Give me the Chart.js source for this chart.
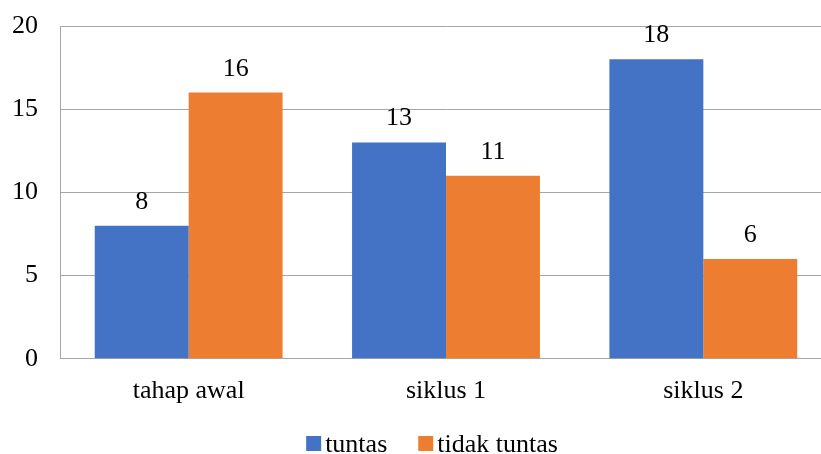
<!DOCTYPE html>
<html>
<head>
<meta charset="utf-8">
<script src="https://cdn.jsdelivr.net/npm/chart.js@4"></script>
<style>
  html, body { margin: 0; padding: 0; background: #fff; overflow: hidden; }
  #wrap { width: 832px; height: 454px; }
</style>
</head>
<body>
<div id="wrap"><canvas id="c"></canvas></div>
<script>
const categories = ['tahap awal', 'siklus 1', 'siklus 2'];
const tuntas = [8, 13, 18];
const tidakTuntas = [16, 11, 6];
const seriesNames = ['tuntas', 'tidak tuntas'];
const yTicks = [0, 5, 10, 15, 20];

const serif = "'Liberation Serif', 'Times New Roman', serif";
const FONT_SIZE = 26;

// Draws each bar's value just above it
const valueLabels = {
  id: 'valueLabels',
  afterDatasetsDraw(chart) {
    const ctx = chart.ctx;
    ctx.save();
    ctx.font = FONT_SIZE + 'px ' + serif;
    ctx.fillStyle = '#000';
    ctx.textAlign = 'center';
    ctx.textBaseline = 'alphabetic';
    chart.data.datasets.forEach((ds, i) => {
      chart.getDatasetMeta(i).data.forEach((bar, j) => {
        ctx.fillText(String(ds.data[j]), bar.x, bar.y - 17);
      });
    });
    ctx.restore();
  }
};

// Compact legend row under the axis: square swatch, tight gap, label
const bottomLegend = {
  id: 'bottomLegend',
  afterDraw(chart) {
    const ctx = chart.ctx;
    const box = 15, gap = 4, itemGap = 31;
    ctx.save();
    ctx.font = FONT_SIZE + 'px ' + serif;
    const items = chart.data.datasets.map(ds => ({
      text: ds.label, color: ds.backgroundColor, w: ctx.measureText(ds.label).width
    }));
    const total = items.reduce((s, it) => s + box + gap + it.w, 0) + itemGap * (items.length - 1);
    const centerX = (chart.chartArea.left + chart.chartArea.right) / 2 - 14;
    const baseline = chart.height - 2;
    let x = centerX - total / 2;
    ctx.textAlign = 'left';
    ctx.textBaseline = 'alphabetic';
    items.forEach(it => {
      ctx.fillStyle = it.color;
      ctx.fillRect(x, baseline - 16, box, box);
      x += box + gap;
      ctx.fillStyle = '#000';
      ctx.fillText(it.text, x, baseline);
      x += it.w + itemGap;
    });
    ctx.restore();
  }
};

new Chart(document.getElementById('c'), {
  type: 'bar',
  data: {
    labels: categories,
    datasets: [
      { label: seriesNames[0], data: tuntas, backgroundColor: '#4472C4' },
      { label: seriesNames[1], data: tidakTuntas, backgroundColor: '#ED7D31' }
    ]
  },
  options: {
    responsive: true,
    maintainAspectRatio: false,
    animation: false,
    devicePixelRatio: 1,
    layout: { padding: { top: 26, left: 0, right: 0, bottom: 30 } },
    datasets: { bar: { barPercentage: 1, categoryPercentage: 0.73 } },
    plugins: {
      legend: { display: false },
      tooltip: { enabled: false }
    },
    scales: {
      x: {
        grid: { display: false, drawTicks: false },
        border: { display: false },
        ticks: { font: { family: serif, size: FONT_SIZE }, color: '#000', padding: 17 },
        afterFit(axis) { axis.paddingLeft = 0; axis.paddingRight = 0; }
      },
      y: {
        min: 0, max: 20,
        afterBuildTicks(axis) { axis.ticks = yTicks.map(v => ({ value: v })); },
        afterFit(axis) {
          axis.width = 60;
          axis.paddingTop = 0;
          axis.paddingBottom = 0;
        },
        grid: { color: '#a6a6a6', drawTicks: false, lineWidth: 1 },
        border: { display: true, color: '#a6a6a6' },
        ticks: { font: { family: serif, size: FONT_SIZE }, color: '#000', padding: 22 }
      }
    }
  },
  plugins: [valueLabels, bottomLegend]
});
</script>
</body>
</html>
